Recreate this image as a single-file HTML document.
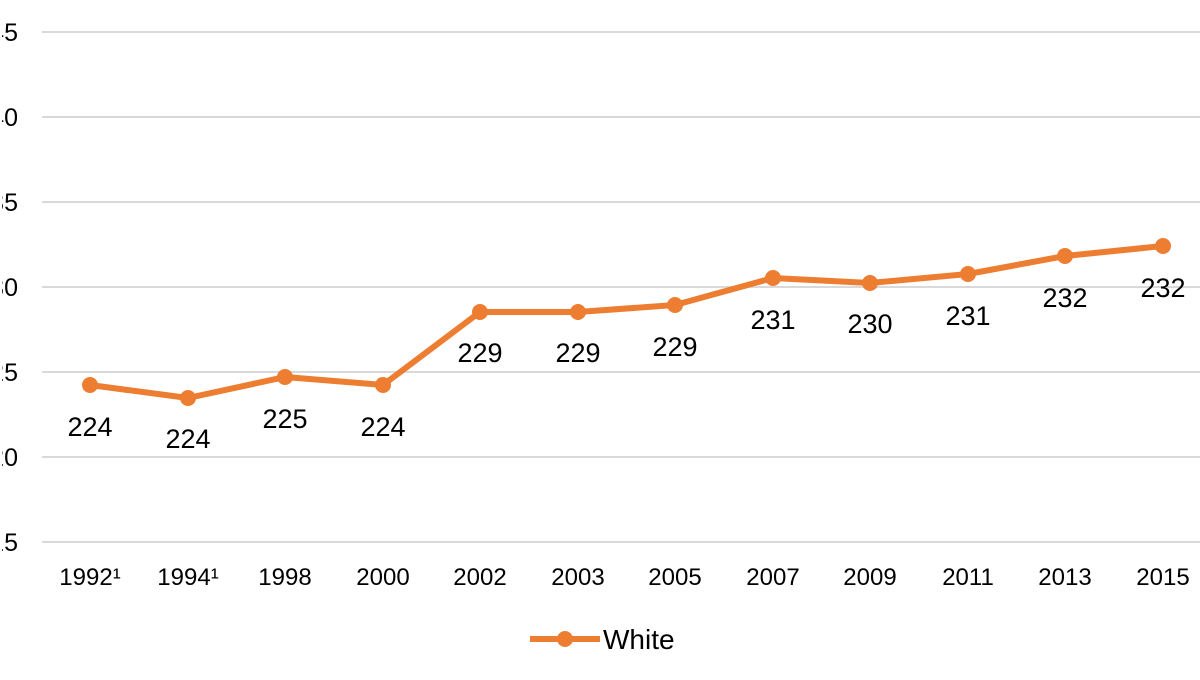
<!DOCTYPE html>
<html><head><meta charset="utf-8"><style>
html,body{margin:0;padding:0;background:#fff;}
svg{display:block;font-family:"Liberation Sans",Arial,sans-serif;}
</style></head><body>
<svg width="1200" height="680" viewBox="0 0 1200 680" xmlns="http://www.w3.org/2000/svg">
<defs><clipPath id="yc"><rect x="2" y="0" width="40" height="680"/></clipPath></defs>
<g stroke="#d9d9d9" stroke-width="2">
<line x1="42" y1="32" x2="1200" y2="32"/>
<line x1="42" y1="117" x2="1200" y2="117"/>
<line x1="42" y1="202" x2="1200" y2="202"/>
<line x1="42" y1="287" x2="1200" y2="287"/>
<line x1="42" y1="372" x2="1200" y2="372"/>
<line x1="42" y1="457" x2="1200" y2="457"/>
<line x1="42" y1="542" x2="1200" y2="542"/>
</g>
<g font-size="25" fill="#000" text-anchor="end" clip-path="url(#yc)">
<text x="18" y="41">245</text>
<text x="18" y="126">240</text>
<text x="18" y="211">235</text>
<text x="18" y="296">230</text>
<text x="18" y="381">225</text>
<text x="18" y="466">220</text>
<text x="18" y="551">215</text>
</g>
<g font-size="24" fill="#000" text-anchor="middle">
<text x="90" y="585">1992¹</text>
<text x="188" y="585">1994¹</text>
<text x="285" y="585">1998</text>
<text x="383" y="585">2000</text>
<text x="480" y="585">2002</text>
<text x="578" y="585">2003</text>
<text x="675" y="585">2005</text>
<text x="773" y="585">2007</text>
<text x="870" y="585">2009</text>
<text x="968" y="585">2011</text>
<text x="1065" y="585">2013</text>
<text x="1163" y="585">2015</text>
</g>
<polyline fill="none" stroke="#ed7d31" stroke-width="6" stroke-linejoin="round" points="90,385 188,398 285,377 383,385 480,312 578,312 675,305 773,278 870,283 968,274 1065,256 1163,246"/>
<g fill="#ed7d31">
<circle cx="90" cy="385" r="8"/><circle cx="188" cy="398" r="8"/><circle cx="285" cy="377" r="8"/><circle cx="383" cy="385" r="8"/><circle cx="480" cy="312" r="8"/><circle cx="578" cy="312" r="8"/><circle cx="675" cy="305" r="8"/><circle cx="773" cy="278" r="8"/><circle cx="870" cy="283" r="8"/><circle cx="968" cy="274" r="8"/><circle cx="1065" cy="256" r="8"/><circle cx="1163" cy="246" r="8"/>
</g>
<g font-size="27" fill="#000" text-anchor="middle">
<text x="90" y="436">224</text>
<text x="188" y="448">224</text>
<text x="285" y="428">225</text>
<text x="383" y="436">224</text>
<text x="480" y="362">229</text>
<text x="578" y="362">229</text>
<text x="675" y="356">229</text>
<text x="773" y="329">231</text>
<text x="870" y="333">230</text>
<text x="968" y="325">231</text>
<text x="1065" y="307">232</text>
<text x="1163" y="297">232</text>
</g>
<line x1="530" y1="639" x2="600" y2="639" stroke="#ed7d31" stroke-width="6"/>
<circle cx="565" cy="639" r="8" fill="#ed7d31"/>
<text x="603" y="649" font-size="28" fill="#000">White</text>
</svg>
</body></html>
